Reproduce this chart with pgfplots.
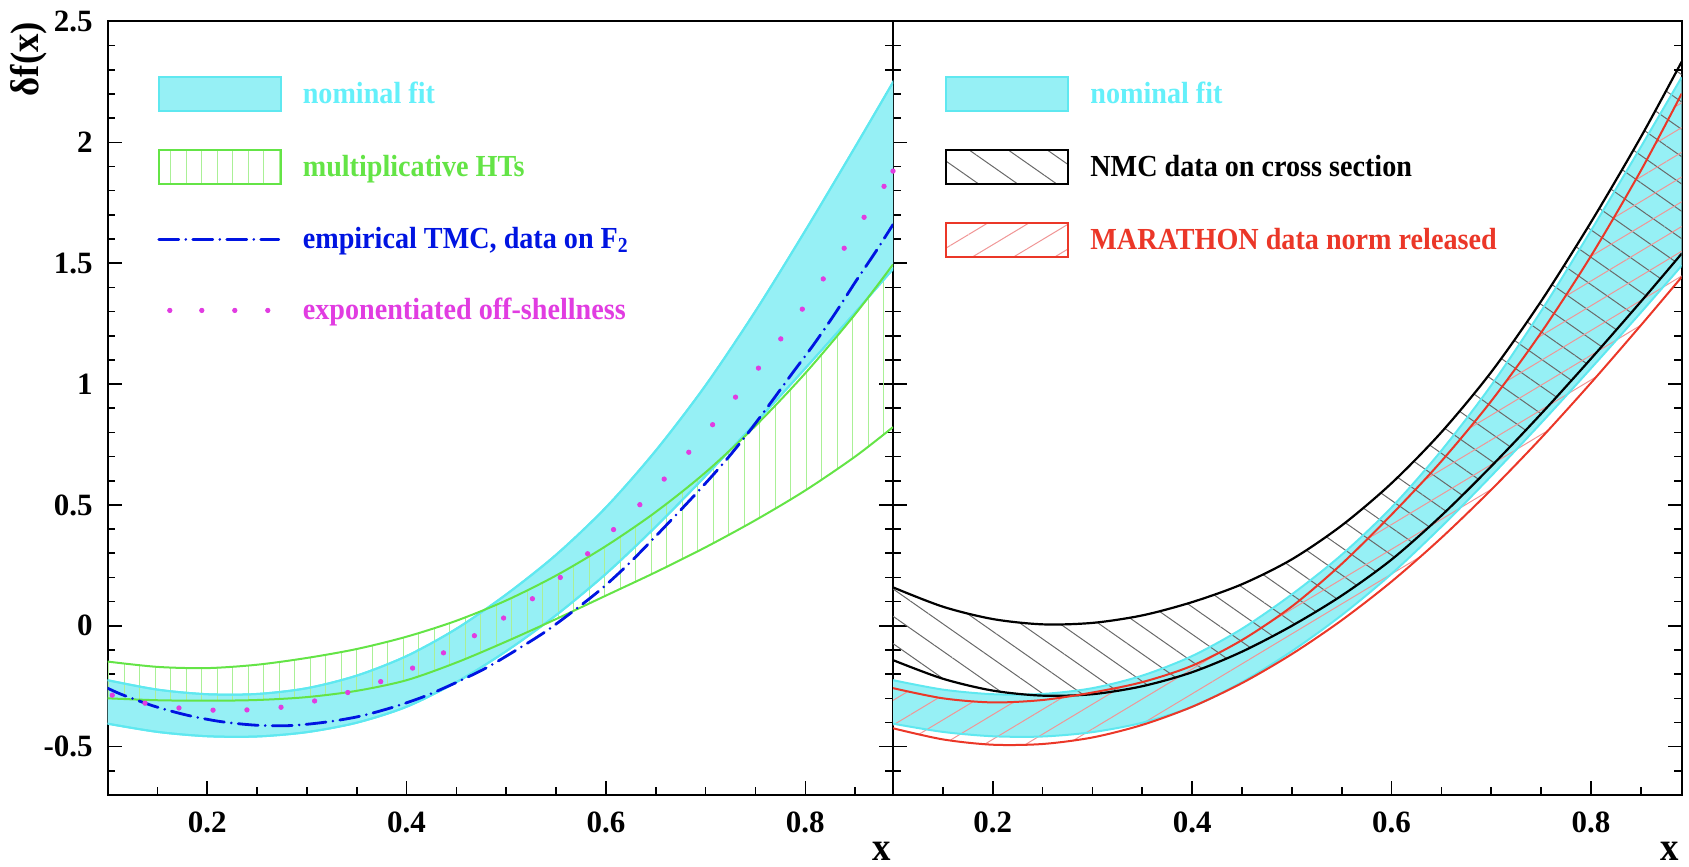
\documentclass[border=0pt]{standalone}
\usepackage{fontspec}
\setmainfont{Liberation Serif}[FakeStretch=0.92]
\newfontfamily\tickfam{Liberation Serif}
\usepackage{pgfplots}
\pgfplotsset{compat=1.18}
\usepgfplotslibrary{fillbetween}
\usetikzlibrary{patterns.meta}

\definecolor{cyanF}{RGB}{150,240,245}
\definecolor{cyanE}{RGB}{95,232,240}
\definecolor{cyanT}{RGB}{100,240,250}
\definecolor{greenL}{RGB}{100,228,70}
\definecolor{greenH}{RGB}{170,240,150}
\definecolor{blueL}{RGB}{0,20,225}
\definecolor{magL}{RGB}{225,60,225}
\definecolor{redL}{RGB}{235,55,40}
\definecolor{redH}{RGB}{240,150,150}
\definecolor{grayH}{RGB}{105,105,105}

\newcommand\lab{\fontsize{15.3}{18}\selectfont\bfseries}
\newcommand\tlab{\tickfam\fontsize{15.5}{18}\selectfont\bfseries}
\newcommand\ttl{\fontsize{20}{24}\selectfont\bfseries}

% nominal fit band: x, upper, lower
\pgfplotstableread{
x up lo
0.10 -0.225 -0.405
0.15 -0.264 -0.439
0.20 -0.283 -0.457
0.25 -0.282 -0.458
0.30 -0.258 -0.440
0.35 -0.206 -0.401
0.40 -0.125 -0.335
0.45 -0.012 -0.233
0.50 0.130 -0.105
0.55 0.294 0.044
0.60 0.490 0.215
0.65 0.725 0.410
0.70 0.995 0.620
0.75 1.302 0.839
0.80 1.635 1.065
0.85 1.981 1.296
0.891 2.270 1.490
}\nominal

% multiplicative HTs band
\pgfplotstableread{
x up lo
0.10 -0.148 -0.300
0.15 -0.170 -0.308
0.20 -0.175 -0.310
0.25 -0.161 -0.307
0.30 -0.133 -0.295
0.35 -0.096 -0.269
0.40 -0.045 -0.225
0.45 0.021 -0.152
0.50 0.105 -0.065
0.55 0.208 0.028
0.60 0.330 0.125
0.65 0.471 0.222
0.70 0.635 0.325
0.75 0.827 0.437
0.80 1.045 0.560
0.85 1.289 0.700
0.888 1.495 0.822
}\hts

% empirical TMC
\pgfplotstableread{
x y
0.100 -0.258
0.114 -0.284
0.147 -0.333
0.180 -0.370
0.213 -0.396
0.248 -0.411
0.282 -0.413
0.316 -0.400
0.350 -0.377
0.383 -0.341
0.416 -0.295
0.448 -0.238
0.479 -0.176
0.509 -0.103
0.539 -0.025
0.567 0.060
0.595 0.151
0.622 0.253
0.647 0.358
0.672 0.466
0.696 0.572
0.720 0.683
0.743 0.800
0.765 0.921
0.787 1.045
0.809 1.167
0.830 1.293
0.850 1.421
0.871 1.550
0.888 1.660
}\tmc

% exponentiated off-shellness
\pgfplotstableread{
x y
0.1047 -0.287
0.1375 -0.320
0.1716 -0.340
0.2058 -0.349
0.2398 -0.348
0.2740 -0.337
0.3077 -0.311
0.3410 -0.276
0.3740 -0.231
0.4060 -0.175
0.4370 -0.112
0.4680 -0.041
0.4973 0.032
0.5262 0.112
0.5542 0.200
0.5816 0.298
0.6076 0.398
0.6340 0.501
0.6584 0.607
0.6831 0.718
0.7070 0.832
0.7300 0.946
0.7530 1.066
0.7754 1.187
0.7970 1.310
0.8180 1.435
0.8390 1.562
0.8590 1.690
0.8790 1.818
0.8880 1.881
}\offshell

% NMC data on cross section
\pgfplotstableread{
x up lo
0.10 0.159 -0.142
0.15 0.079 -0.219
0.20 0.028 -0.268
0.25 0.006 -0.289
0.30 0.012 -0.283
0.35 0.043 -0.250
0.40 0.098 -0.192
0.45 0.172 -0.107
0.50 0.275 0.000
0.55 0.415 0.125
0.60 0.590 0.274
0.65 0.801 0.456
0.70 1.050 0.660
0.75 1.343 0.877
0.80 1.670 1.105
0.85 2.022 1.341
0.891 2.334 1.540
}\nmc

% MARATHON data norm released
\pgfplotstableread{
x up lo
0.10 -0.258 -0.424
0.15 -0.300 -0.470
0.20 -0.317 -0.492
0.25 -0.307 -0.489
0.30 -0.276 -0.462
0.35 -0.233 -0.410
0.40 -0.165 -0.335
0.45 -0.059 -0.237
0.50 0.080 -0.117
0.55 0.256 0.023
0.60 0.460 0.183
0.65 0.681 0.364
0.70 0.930 0.563
0.75 1.213 0.777
0.80 1.530 1.005
0.85 1.883 1.243
0.891 2.202 1.443
}\marathon

\pgfplotsset{
  rootstyle/.style={
    scale only axis, height=386.75pt,
    xmin=0.1, ymin=-0.7, ymax=2.5,
    axis line style={line width=1pt},
    every tick/.style={line width=0.8pt, black},
    major tick length=7pt, minor tick length=3.8pt,
    tick align=inside,
    xtick={0.2,0.4,0.6,0.8}, xticklabels={0.2,0.4,0.6,0.8},
    minor xtick={0.15,0.25,0.3,0.35,0.45,0.5,0.55,0.65,0.7,0.75,0.85},
    ytick={-0.5,0,0.5,1,1.5,2,2.5},
    minor ytick={-0.6,-0.4,-0.3,-0.2,-0.1,0.1,0.2,0.3,0.4,0.6,0.7,0.8,0.9,1.1,1.2,1.3,1.4,1.6,1.7,1.8,1.9,2.1,2.2,2.3,2.4},
    xtick pos=left, ytick pos=both,
    /pgf/number format/assume math mode=true,
    xticklabel style={font=\tlab, inner sep=0pt, anchor=north, yshift=-8.2pt},
    yticklabel style={font=\tlab, inner sep=0pt, anchor=east, xshift=-7.3pt},
    xlabel={x},
    xlabel style={font=\ttl, at={(rel axis cs:1,0)}, anchor=base east, inner sep=0pt, yshift=-32.85pt, xshift=-1pt},
    legend cell align=left,
    legend style={draw=none, fill=none, inner sep=0pt, row sep=18.5pt,
      nodes={inner sep=0pt, font=\lab}},
  },
  boxleg/.style={legend image code/.code={
     \path[draw=none, fill=none] (0pt,-8.5pt) rectangle (72pt,8.5pt);
     \draw[#1] (0pt,-8.5pt) rectangle (61pt,8.5pt);}},
}

\begin{document}
\begin{tikzpicture}
% ---------------- left panel ----------------
\begin{axis}[rootstyle, at={(53.8pt,35.5pt)}, anchor=south west,
  width=392.7pt, xmax=0.888,
  yticklabels={-0.5,0,0.5,1,1.5,2,2.5},
  ylabel={δf(x)},
  ylabel style={font=\ttl, at={(rel axis cs:-0.0886,1)}, anchor=base east, inner sep=0pt},
  legend style={at={(rel axis cs:0.0629,0.9295)}, anchor=north west},
]
\addlegendimage{boxleg={draw=cyanE, fill=cyanF, line width=1pt}}
\addlegendentry{\textcolor{cyanT}{nominal fit}}
\addlegendimage{boxleg={draw=greenL, line width=1pt, pattern={Lines[angle=90,distance=7.75pt,line width=0.5pt]}, pattern color=greenH}}
\addlegendentry{\textcolor{greenL}{multiplicative HTs}}
\addlegendimage{legend image code/.code={
   \path[draw=none, fill=none] (0pt,-8.5pt) rectangle (72pt,8.5pt);
   \draw[blueL, line width=1.4pt, line cap=round, dash pattern=on 10pt off 3.5pt on 0pt off 3.5pt] (0pt,0pt) -- (60pt,0pt);}}
\addlegendentry{\textcolor{blueL}{empirical TMC, data on F\textsubscript{2}}}
\addlegendimage{legend image code/.code={
   \path[draw=none, fill=none] (0pt,-8.5pt) rectangle (72pt,8.5pt);
   \foreach \p in {5.5,21.5,38,54.5} {\fill[magL] (\p pt,0pt) circle (1.1pt);}}}
\addlegendentry{\textcolor{magL}{exponentiated off-shellness}}

% nominal band
\addplot[name path=nU, cyanE, line width=1pt, smooth, forget plot] table[x=x,y=up] {\nominal};
\addplot[name path=nL, cyanE, line width=1pt, smooth, forget plot] table[x=x,y=lo] {\nominal};
\addplot[fill=cyanF, draw=none, forget plot] fill between[of=nU and nL];
\addplot[cyanE, line width=1pt, smooth, forget plot] table[x=x,y=up] {\nominal};
\addplot[cyanE, line width=1pt, smooth, forget plot] table[x=x,y=lo] {\nominal};
% HTs band
\addplot[name path=hU, draw=none, smooth, forget plot] table[x=x,y=up] {\hts};
\addplot[name path=hL, draw=none, smooth, forget plot] table[x=x,y=lo] {\hts};
\addplot[draw=none, pattern={Lines[angle=90,distance=7.75pt,line width=0.5pt]}, pattern color=greenH, forget plot] fill between[of=hU and hL];
\addplot[greenL, line width=1pt, smooth, forget plot] table[x=x,y=up] {\hts};
\addplot[greenL, line width=1pt, smooth, forget plot] table[x=x,y=lo] {\hts};
% TMC
\addplot[blueL, line width=1.4pt, line cap=round, dash pattern=on 10pt off 3.5pt on 0pt off 3.5pt, smooth, forget plot] table[x=x,y=y] {\tmc};
% off-shellness
\addplot[magL, only marks, mark=*, mark size=1.1pt, mark options={draw=magL, fill=magL}, forget plot] table[x=x,y=y] {\offshell};
\end{axis}

% ---------------- right panel ----------------
\begin{axis}[rootstyle, at={(446.5pt,35.5pt)}, anchor=south west,
  width=394.35pt, xmax=0.891,
  yticklabels={},
  legend style={at={(rel axis cs:0.0659,0.9295)}, anchor=north west},
]
\addlegendimage{boxleg={draw=cyanE, fill=cyanF, line width=1pt}}
\addlegendentry{\textcolor{cyanT}{nominal fit}}
\addlegendimage{boxleg={draw=black, line width=1pt, pattern={Lines[angle=-35,distance=11.2pt,line width=0.5pt]}, pattern color=grayH}}
\addlegendentry{\textcolor{black}{NMC data on cross section}}
\addlegendimage{boxleg={draw=redL, line width=1pt, pattern={Lines[angle=31,distance=10.6pt,line width=0.5pt]}, pattern color=redH}}
\addlegendentry{\textcolor{redL}{MARATHON data norm released}}

% nominal band
\addplot[name path=rnU, draw=none, smooth, forget plot] table[x=x,y=up] {\nominal};
\addplot[name path=rnL, draw=none, smooth, forget plot] table[x=x,y=lo] {\nominal};
\addplot[fill=cyanF, draw=none, forget plot] fill between[of=rnU and rnL];
\addplot[cyanE, line width=1pt, smooth, forget plot] table[x=x,y=up] {\nominal};
\addplot[cyanE, line width=1pt, smooth, forget plot] table[x=x,y=lo] {\nominal};
% NMC band
\addplot[name path=kU, draw=none, smooth, forget plot] table[x=x,y=up] {\nmc};
\addplot[name path=kL, draw=none, smooth, forget plot] table[x=x,y=lo] {\nmc};
\addplot[draw=none, pattern={Lines[angle=-35,distance=11.2pt,line width=0.5pt]}, pattern color=grayH, forget plot] fill between[of=kU and kL];
% MARATHON band
\addplot[name path=mU, draw=none, smooth, forget plot] table[x=x,y=up] {\marathon};
\addplot[name path=mL, draw=none, smooth, forget plot] table[x=x,y=lo] {\marathon};
\addplot[draw=none, pattern={Lines[angle=31,distance=10.6pt,line width=0.5pt]}, pattern color=redH, forget plot] fill between[of=mU and mL];
% edges
\addplot[black, line width=1.1pt, smooth, forget plot] table[x=x,y=up] {\nmc};
\addplot[black, line width=1.1pt, smooth, forget plot] table[x=x,y=lo] {\nmc};
\addplot[redL, line width=1pt, smooth, forget plot] table[x=x,y=up] {\marathon};
\addplot[redL, line width=1pt, smooth, forget plot] table[x=x,y=lo] {\marathon};
\end{axis}
\pgfresetboundingbox
\path (0pt,0pt) rectangle (844.5pt,433pt);
\end{tikzpicture}
\end{document}
